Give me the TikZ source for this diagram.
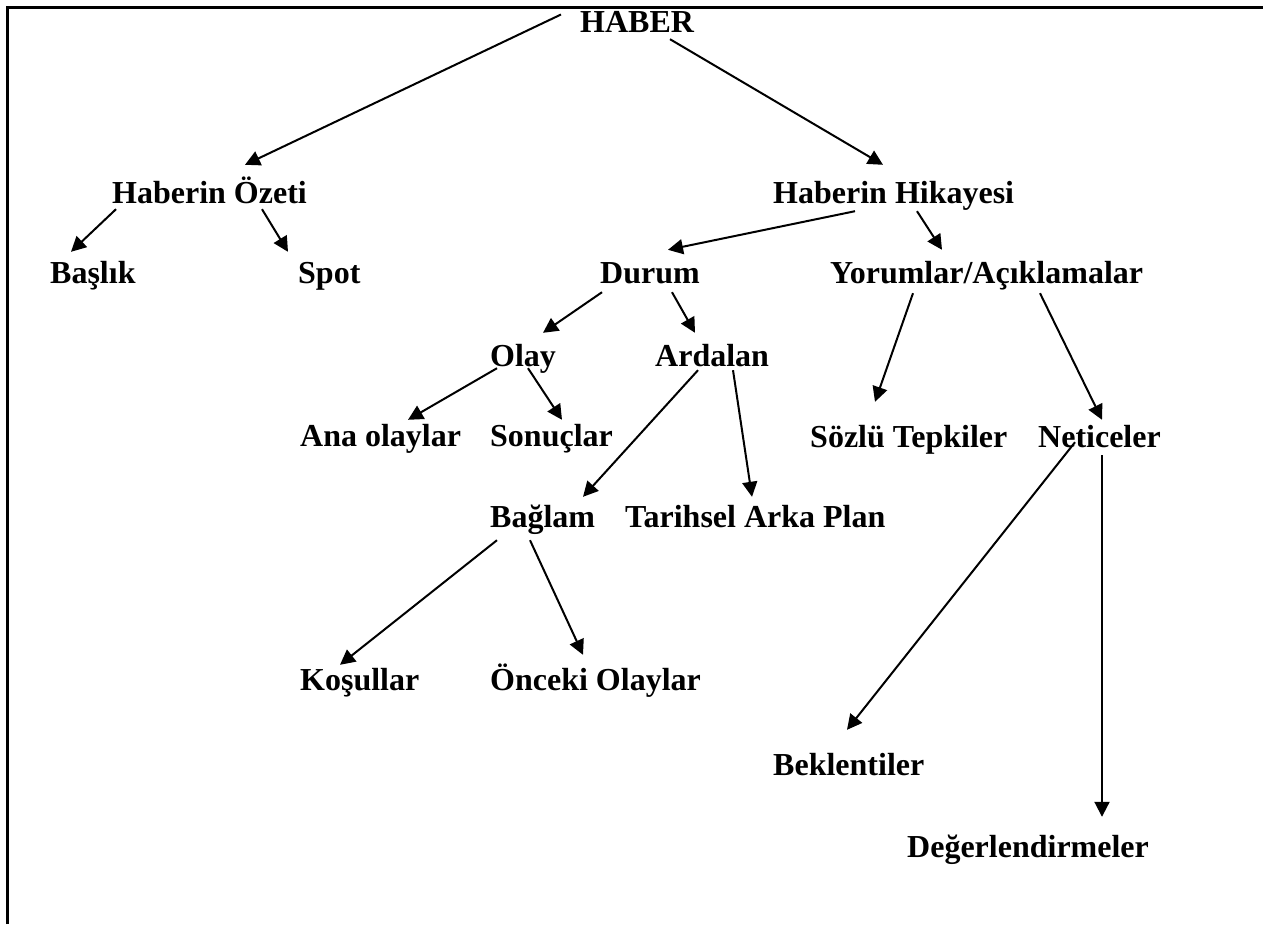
\documentclass[tikz,border=0pt]{standalone}
\usepackage{fontspec}
\setmainfont{Liberation Serif}
\usetikzlibrary{arrows.meta}

\tikzset{
  etiket/.style={inner sep=0pt, anchor=base west, text height=22pt, text depth=7pt,
    font=\bfseries\fontsize{32}{38}\selectfont},
  ok/.style={line width=2pt, -{Triangle[length=15pt,width=15pt]}}
}

\begin{document}
\begin{tikzpicture}[x=1pt,y=-1pt]
  \useasboundingbox (0,0) rectangle (1263,924);
  \draw[line width=3pt] (7,924) -- (7,7.5) -- (1263,7.5);

  \node[etiket] (haber) at (580,32) {HABER};
  \node[etiket] (ozet) at (112,203) {Haberin Özeti};
  \node[etiket] (hikaye) at (773,203) {Haberin Hikayesi};
  \node[etiket] (baslik) at (50,283) {Başlık};
  \node[etiket] (spot) at (298,283) {Spot};
  \node[etiket] (durum) at (600,283) {Durum};
  \node[etiket] (yorum) at (830,283) {Yorumlar/Açıklamalar};
  \node[etiket] (olay) at (490,366) {Olay};
  \node[etiket] (ardalan) at (655,366) {Ardalan};
  \node[etiket] (anaolay) at (300,446) {Ana olaylar};
  \node[etiket] (sonuc) at (490,446) {Sonuçlar};
  \node[etiket] (sozlu) at (810,447) {Sözlü Tepkiler};
  \node[etiket] (netice) at (1038,447) {Neticeler};
  \node[etiket] (baglam) at (490,527) {Bağlam};
  \node[etiket] (tarih) at (625,527) {Tarihsel Arka Plan};
  \node[etiket] (kosul) at (300,690) {Koşullar};
  \node[etiket] (onceki) at (490,690) {Önceki Olaylar};
  \node[etiket] (beklenti) at (773,775) {Beklentiler};
  \node[etiket] (deger) at (907,857) {Değerlendirmeler};

  \draw[ok] ([shift={(-19,-10)}]haber.west) -- ([shift={(133,-16)}]ozet.north west);
  \draw[ok] ([shift={(90,0)}]haber.south west) -- ([shift={(110,-16)}]hikaye.north west);
  \draw[ok] ([shift={(4,-1)}]ozet.south west) -- ([shift={(21,-9)}]baslik.north west);
  \draw[ok] ([shift={(150,-1)}]ozet.south west) -- ([shift={(-10,-9)}]spot.north west);
  \draw[ok] ([shift={(82,1)}]hikaye.south west) -- ([shift={(68,-11)}]durum.north west);
  \draw[ok] ([shift={(144,1)}]hikaye.south west) -- ([shift={(112,-11)}]yorum.north west);
  \draw[ok] ([shift={(2,2)}]durum.south west) -- ([shift={(53,-11)}]olay.north west);
  \draw[ok] ([shift={(72,2)}]durum.south west) -- ([shift={(40,-11)}]ardalan.north west);
  \draw[ok] ([shift={(7,-5)}]olay.south west) -- ([shift={(108,-4)}]anaolay.north west);
  \draw[ok] ([shift={(38,-5)}]olay.south west) -- ([shift={(72,-4)}]sonuc.north west);
  \draw[ok] ([shift={(43,-3)}]ardalan.south west) -- ([shift={(93,-8)}]baglam.north west);
  \draw[ok] ([shift={(78,-3)}]ardalan.south west) -- ([shift={(127,-8)}]tarih.north west);
  \draw[ok] ([shift={(83,3)}]yorum.south west) -- ([shift={(65,-23)}]sozlu.north west);
  \draw[ok] ([shift={(210,3)}]yorum.south west) -- ([shift={(64,-5)}]netice.north west);
  \draw[ok] ([shift={(37,-12)}]netice.south west) -- ([shift={(74,-23)}]beklenti.north west);
  \draw[ok] ([shift={(64,1)}]netice.south west) -- ([shift={(195,-18)}]deger.north west);
  \draw[ok] ([shift={(7,6)}]baglam.south west) -- ([shift={(40,-3)}]kosul.north west);
  \draw[ok] ([shift={(40,6)}]baglam.south west) -- ([shift={(93,-13)}]onceki.north west);
\end{tikzpicture}
\end{document}
